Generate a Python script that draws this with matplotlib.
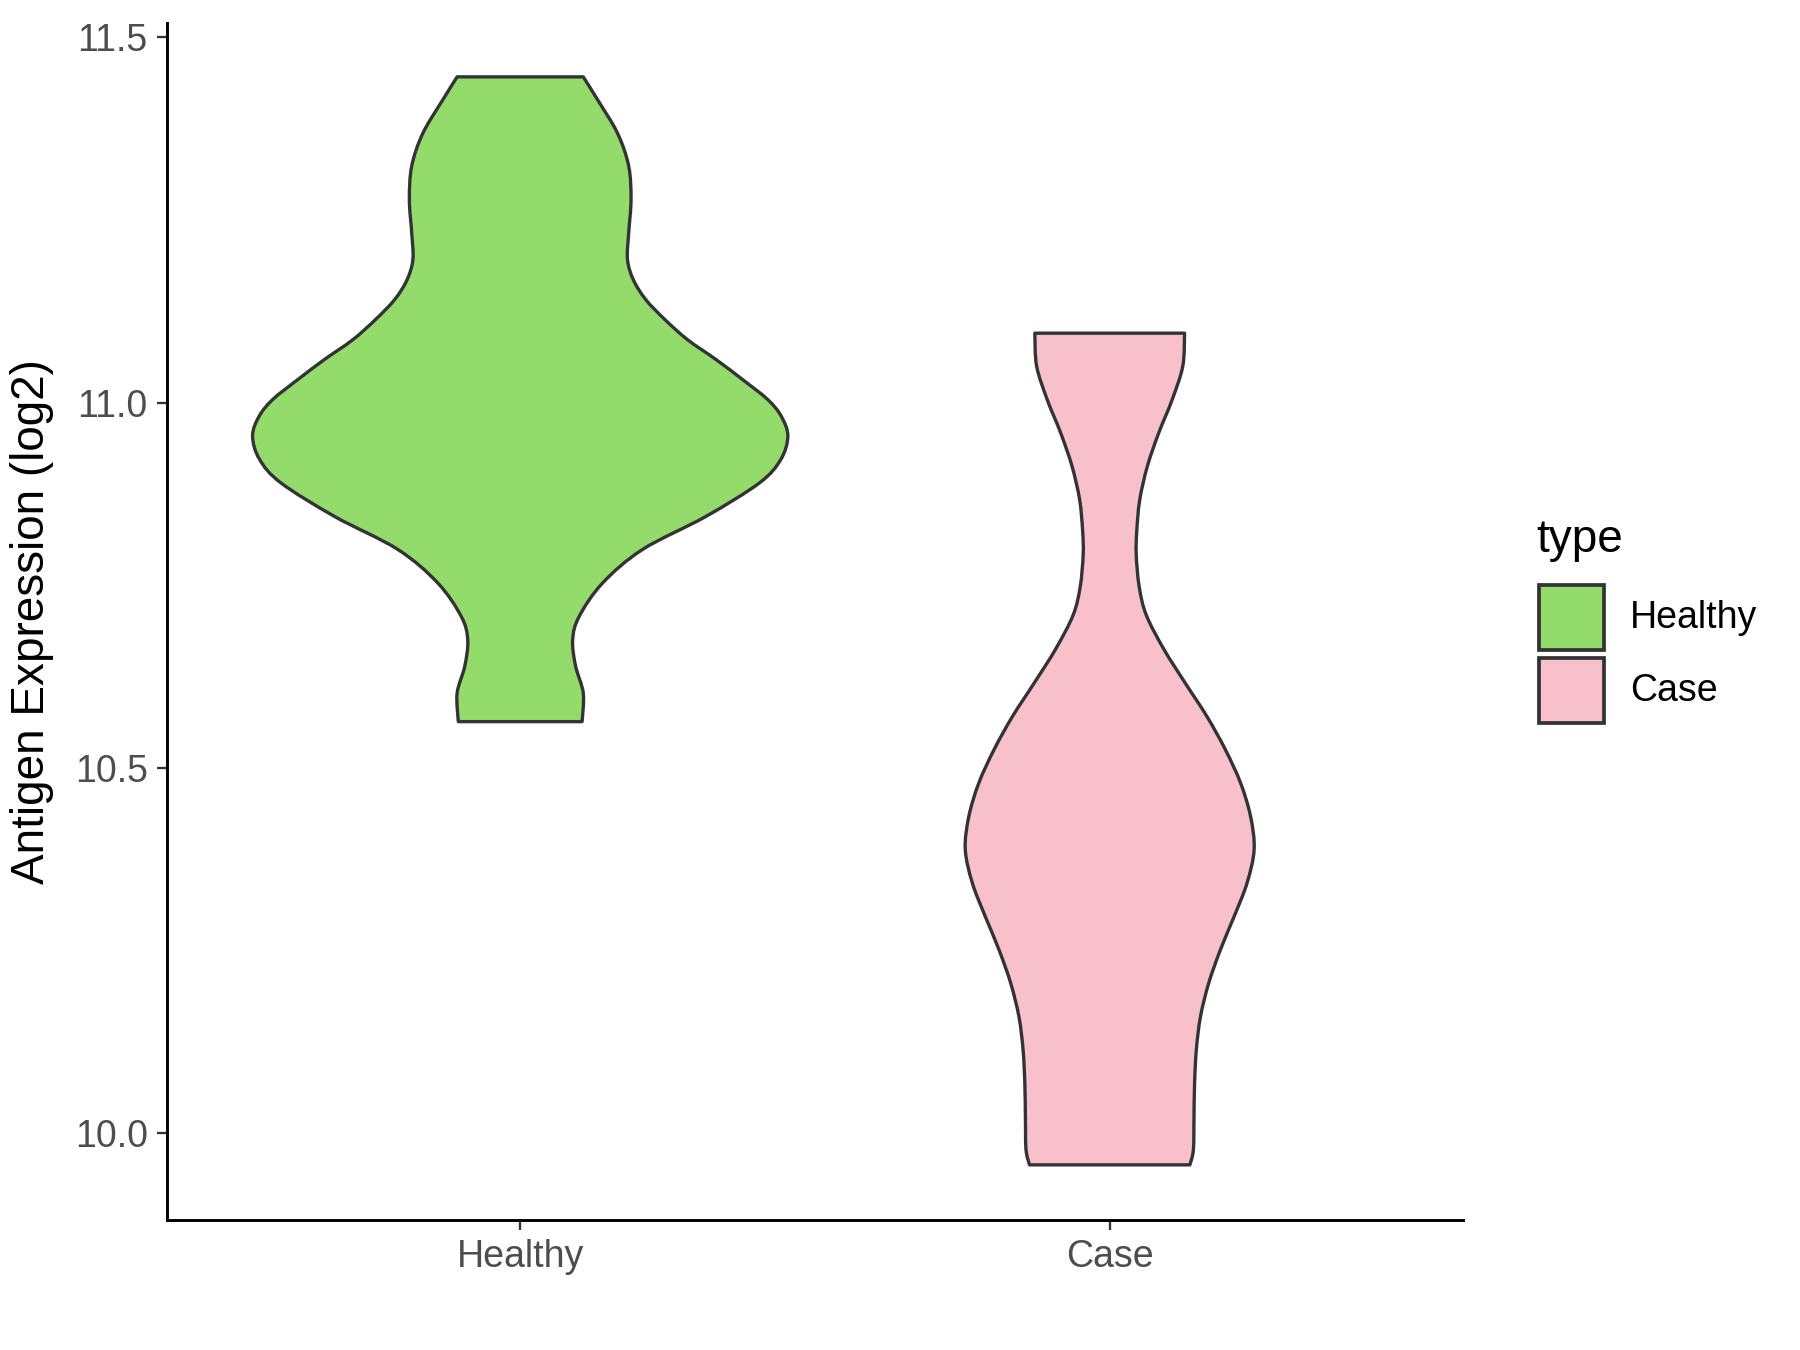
import numpy as np
import matplotlib
matplotlib.use("Agg")
import matplotlib.pyplot as plt
from matplotlib.patches import Rectangle, PathPatch
from matplotlib.path import Path

plt.rcParams['font.family'] = ['Liberation Sans', 'DejaVu Sans']

# groups and colours
groups = ['Healthy', 'Case']
fills = ['#93DC6B', '#F7C0CB']

# violin outlines: expression value and half width
healthy_y = [11.446, 11.415, 11.369, 11.324, 11.278, 11.232, 11.196, 11.168,
             11.141, 11.114, 11.086, 11.059, 11.031, 11.004, 10.981, 10.954,
             10.922, 10.890, 10.844, 10.799, 10.753, 10.707, 10.675, 10.639,
             10.602, 10.563]
healthy_w = [0.107, 0.131, 0.165, 0.184, 0.188, 0.184, 0.182, 0.192,
             0.213, 0.245, 0.284, 0.332, 0.378, 0.420, 0.443, 0.454,
             0.442, 0.406, 0.315, 0.208, 0.140, 0.100, 0.089, 0.094,
             0.107, 0.105]

case_y = [11.095, 11.050, 11.004, 10.958, 10.913, 10.867, 10.825, 10.792,
          10.748, 10.709, 10.662, 10.616, 10.570, 10.525, 10.479,
          10.433, 10.388, 10.342, 10.296, 10.251, 10.205, 10.159, 10.114,
          10.068, 10.022, 9.977, 9.956]
case_w = [0.127, 0.124, 0.106, 0.083, 0.064, 0.051, 0.046, 0.045,
          0.050, 0.062, 0.092, 0.128, 0.165, 0.196, 0.222,
          0.239, 0.245, 0.233, 0.211, 0.188, 0.168, 0.154, 0.147,
          0.144, 0.143, 0.142, 0.136]

yticks = [10.0, 10.5, 11.0, 11.5]


def side_curve(px, py):
    # bezier segments through the measured points (catmull-rom style)
    P = np.column_stack([px, py])
    n = len(P)
    verts, codes = [], []
    for k in range(n - 1):
        p0 = P[max(k - 1, 0)]
        p1 = P[k]
        p2 = P[k + 1]
        p3 = P[min(k + 2, n - 1)]
        c1 = p1 + (p2 - p0) / 6.0
        c2 = p2 - (p3 - p1) / 6.0
        verts += [c1, c2, p2]
        codes += [Path.CURVE4] * 3
    return verts, codes


def violin_path(pos, ys, ws):
    ys = np.array(ys)
    ws = np.array(ws)
    left_x = pos - ws
    right_x = pos + ws
    verts = [(left_x[0], ys[0])]
    codes = [Path.MOVETO]
    v, c = side_curve(left_x, ys)
    verts += v
    codes += c
    verts.append((right_x[-1], ys[-1]))
    codes.append(Path.LINETO)
    v, c = side_curve(right_x[::-1], ys[::-1])
    verts += v
    codes += c
    verts.append((left_x[0], ys[0]))
    codes.append(Path.CLOSEPOLY)
    return Path(verts, codes)


fig = plt.figure(figsize=(12, 9), dpi=150)
ax = fig.add_axes([0.0925, 0.0963, 0.7205, 0.887])

profiles = [(healthy_y, healthy_w), (case_y, case_w)]
for i, (ys, ws) in enumerate(profiles):
    patch = PathPatch(violin_path(i + 1, ys, ws), facecolor=fills[i],
                      edgecolor='#333333', linewidth=1.6, joinstyle='round')
    ax.add_patch(patch)

ax.set_xlim(0.4, 2.6)
ax.set_ylim(9.8805, 11.5204)
ax.set_xticks([1, 2])
ax.set_xticklabels(groups)
ax.set_yticks(yticks)
ax.set_yticklabels(['%.1f' % t for t in yticks])
ax.tick_params(axis='both', labelsize=18, labelcolor='#4D4D4D', color='#333333',
               length=5, width=1.1, pad=4)
ax.set_ylabel('Antigen Expression (log2)', fontsize=22, labelpad=10)
for s in ['top', 'right']:
    ax.spines[s].set_visible(False)
for s in ['left', 'bottom']:
    ax.spines[s].set_linewidth(1.4)
    ax.spines[s].set_color('black')

# legend
W, H = 1800, 1350
fig.text(1536 / W, 1 - 540 / H, 'type', fontsize=22, va='center', ha='left')
key_top = [585, 658]
for i, g in enumerate(groups):
    y0 = key_top[i]
    fig.add_artist(Rectangle((1539 / W, 1 - (y0 + 65) / H), 65 / W, 65 / H,
                             transform=fig.transFigure, facecolor=fills[i],
                             edgecolor='#333333', linewidth=1.8))
    fig.text(1630 / W, 1 - (y0 + 33) / H, g, fontsize=18, va='center', ha='left')

fig.savefig('out.png', dpi=150, facecolor='white')
